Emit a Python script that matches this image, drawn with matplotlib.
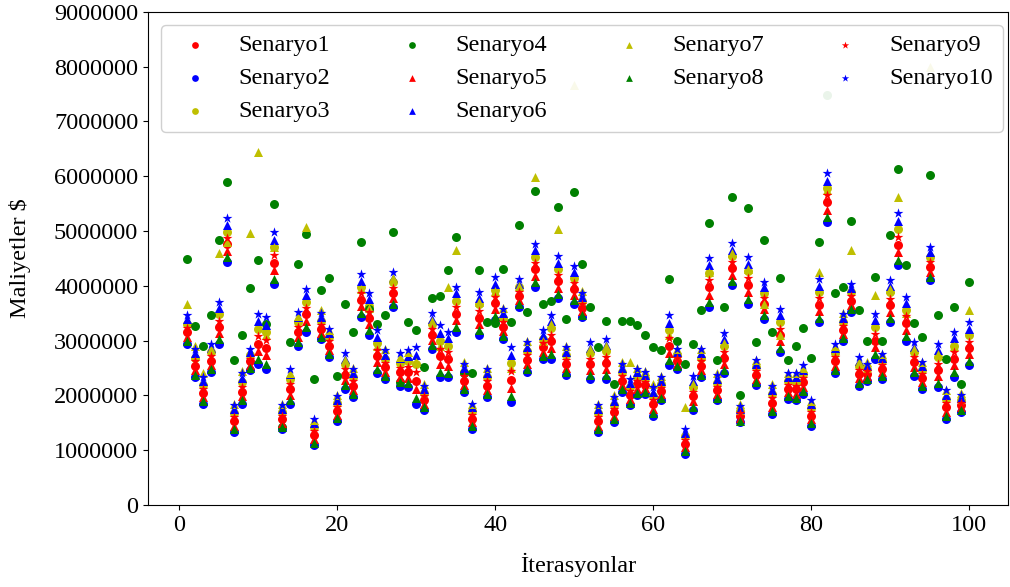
import numpy as np
import matplotlib
matplotlib.use("Agg")
import matplotlib.pyplot as plt

plt.rcParams['font.family'] = ['Liberation Serif', 'DejaVu Serif']

iterations = list(range(1, 101))

# values in millions of $
senaryo1 = [3.15, 2.54, 2.04, 2.63, 3.25, 4.76, 1.53, 2.07, 2.62, 2.94,
            2.87, 4.42, 1.56, 2.11, 3.15, 3.48, 1.28, 3.21, 2.91, 1.72,
            2.38, 2.18, 3.74, 3.41, 2.72, 2.51, 3.87, 2.42, 2.42, 2.27,
            1.91, 3.11, 2.71, 2.66, 3.49, 2.27, 1.57, 3.42, 2.18, 3.69,
            3.25, 2.28, 3.81, 2.65, 4.30, 2.88, 2.99, 4.08, 2.57, 3.95,
            3.60, 2.57, 1.53, 2.59, 1.69, 2.27, 2.01, 2.20, 2.19, 1.84,
            2.08, 2.91, 2.63, 1.11, 1.98, 2.54, 3.97, 2.09, 2.69, 4.32,
            1.63, 4.01, 2.37, 3.67, 1.87, 3.11, 2.12, 2.11, 2.24, 1.63,
            3.65, 5.52, 2.62, 3.20, 3.73, 2.39, 2.39, 3.00, 2.48, 3.65,
            4.75, 3.32, 2.60, 2.32, 4.34, 2.47, 1.78, 2.67, 1.82, 2.87]
senaryo2 = [2.94, 2.33, 1.85, 2.43, 2.94, 4.44, 1.33, 1.85, 2.46, 2.58,
            2.49, 4.04, 1.39, 1.85, 2.91, 3.16, 1.09, 3.02, 2.70, 1.54,
            2.12, 1.97, 3.43, 3.11, 2.40, 2.30, 3.61, 2.18, 2.15, 1.85,
            1.73, 2.85, 2.33, 2.33, 3.16, 2.06, 1.39, 3.11, 1.97, 3.37,
            3.03, 1.88, 3.61, 2.43, 3.98, 2.67, 2.67, 3.77, 2.37, 3.67,
            3.43, 2.30, 1.33, 2.30, 1.51, 2.06, 1.82, 2.00, 2.03, 1.63,
            1.91, 2.55, 2.49, 0.93, 1.73, 2.33, 3.61, 1.91, 2.40, 4.01,
            1.51, 3.67, 2.19, 3.40, 1.66, 2.79, 1.94, 1.91, 2.03, 1.45,
            3.34, 5.17, 2.41, 3.00, 3.52, 2.18, 2.27, 2.67, 2.30, 3.34,
            4.37, 3.00, 2.36, 2.12, 4.10, 2.15, 1.57, 2.34, 1.70, 2.55]
senaryo3 = [3.31, 2.69, 2.19, 2.79, 3.48, 4.99, 1.67, 2.24, 2.73, 3.22,
            3.15, 4.70, 1.69, 2.30, 3.34, 3.71, 1.43, 3.36, 3.06, 1.86,
            2.58, 2.33, 3.98, 3.64, 2.95, 2.66, 4.06, 2.59, 2.62, 2.58,
            2.05, 3.31, 3.00, 2.91, 3.73, 2.42, 1.71, 3.66, 2.33, 3.92,
            3.42, 2.59, 3.97, 2.81, 4.53, 3.03, 3.23, 4.31, 2.73, 4.15,
            3.73, 2.77, 1.67, 2.81, 1.83, 2.42, 2.16, 2.34, 2.31, 1.99,
            2.20, 3.19, 2.74, 1.25, 2.16, 2.69, 4.23, 2.23, 2.91, 4.55,
            1.71, 4.27, 2.51, 3.87, 2.02, 3.34, 2.26, 2.25, 2.39, 1.77,
            3.89, 5.79, 2.78, 3.34, 3.88, 2.54, 2.49, 3.24, 2.62, 3.88,
            5.04, 3.56, 2.79, 2.46, 4.53, 2.70, 1.93, 2.91, 1.91, 3.10]
senaryo4 = [4.48, 3.26, 2.91, 3.47, 4.83, 5.90, 2.65, 3.10, 3.96, 4.47,
            3.31, 5.50, 1.42, 2.97, 4.40, 4.94, 2.30, 3.92, 4.14, 2.36,
            3.67, 3.16, 4.80, 3.58, 3.31, 3.47, 4.98, 2.25, 3.34, 3.19,
            2.52, 3.77, 3.81, 4.28, 4.89, 2.40, 2.40, 4.28, 3.34, 3.32,
            4.31, 3.34, 5.10, 3.52, 5.73, 3.67, 3.73, 5.44, 3.40, 5.72,
            4.40, 3.61, 2.88, 3.36, 2.20, 3.36, 3.36, 3.28, 3.10, 2.88,
            2.82, 4.13, 3.00, 2.58, 2.94, 3.55, 5.14, 2.64, 3.62, 5.62,
            2.01, 5.41, 2.97, 4.83, 3.16, 4.14, 2.65, 2.91, 3.23, 2.69,
            4.80, 7.48, 3.86, 3.98, 5.18, 3.55, 3.00, 4.16, 3.00, 4.93,
            6.13, 4.37, 3.32, 3.07, 6.02, 3.46, 2.67, 3.62, 2.21, 4.07]
senaryo5 = [3.07, 2.46, 1.97, 2.56, 3.13, 4.64, 1.45, 1.99, 2.56, 2.81,
            2.73, 4.28, 1.50, 2.01, 3.06, 3.36, 1.21, 3.14, 2.83, 1.65,
            2.28, 2.10, 3.63, 3.30, 2.60, 2.43, 3.77, 2.33, 2.32, 2.11,
            1.84, 3.01, 2.57, 2.54, 3.37, 2.19, 1.51, 3.31, 2.10, 3.57,
            3.17, 2.13, 3.74, 2.57, 4.18, 2.80, 2.87, 3.96, 2.50, 3.84,
            3.54, 2.47, 1.45, 2.48, 1.63, 2.19, 1.94, 2.12, 2.13, 1.76,
            2.02, 2.78, 2.58, 1.05, 1.89, 2.46, 3.83, 2.03, 2.58, 4.20,
            1.58, 3.89, 2.30, 3.57, 1.79, 2.99, 2.06, 2.03, 2.16, 1.57,
            3.54, 5.39, 2.54, 3.12, 3.65, 2.31, 2.35, 2.88, 2.42, 3.53,
            4.61, 3.20, 2.51, 2.24, 4.25, 2.35, 1.70, 2.55, 1.78, 2.75]
senaryo6 = [3.39, 2.77, 2.26, 2.86, 3.59, 5.11, 1.75, 2.32, 2.79, 3.35,
            3.29, 4.84, 1.76, 2.39, 3.43, 3.83, 1.50, 3.43, 3.14, 1.92,
            2.67, 2.41, 4.09, 3.76, 3.07, 2.74, 4.15, 2.68, 2.72, 2.73,
            2.11, 3.40, 3.14, 3.04, 3.86, 2.50, 1.78, 3.77, 2.41, 4.04,
            3.50, 2.74, 4.04, 2.89, 4.65, 3.11, 3.35, 4.42, 2.80, 4.26,
            3.80, 2.87, 1.75, 2.92, 1.90, 2.50, 2.23, 2.42, 2.37, 2.07,
            2.27, 3.32, 2.80, 1.32, 2.26, 2.77, 4.37, 2.30, 3.02, 4.66,
            1.76, 4.40, 2.57, 3.97, 2.10, 3.46, 2.33, 2.33, 2.47, 1.84,
            4.00, 5.92, 2.86, 3.42, 3.96, 2.62, 2.53, 3.37, 2.69, 3.99,
            5.18, 3.68, 2.88, 2.54, 4.62, 2.82, 2.01, 3.04, 1.96, 3.22]
senaryo7 = [3.67, 2.90, 2.40, 2.85, 4.60, 4.80, 1.85, 2.45, 4.97, 6.44,
            3.10, 4.70, 1.85, 2.40, 3.45, 5.07, 1.55, 3.55, 3.20, 2.00,
            2.65, 2.50, 3.95, 3.60, 2.90, 2.85, 4.15, 2.70, 2.80, 2.60,
            2.20, 3.35, 2.90, 3.98, 4.66, 2.60, 1.85, 3.70, 2.50, 3.90,
            3.60, 2.50, 4.00, 3.00, 5.98, 3.00, 3.30, 5.04, 2.90, 7.66,
            3.90, 2.85, 1.85, 2.90, 2.00, 2.60, 2.61, 2.50, 2.45, 2.20,
            2.35, 3.10, 2.85, 1.79, 2.20, 2.85, 4.25, 2.40, 2.95, 4.60,
            1.85, 4.31, 2.65, 3.67, 2.20, 3.10, 2.40, 2.40, 2.50, 1.90,
            4.25, 5.75, 2.90, 3.50, 4.65, 2.60, 2.60, 3.84, 2.75, 3.95,
            5.62, 3.50, 2.85, 2.60, 8.00, 2.75, 2.10, 2.90, 2.05, 3.55]
senaryo8 = [2.99, 2.38, 1.90, 2.48, 3.02, 4.52, 1.38, 1.91, 2.50, 2.67,
            2.58, 4.13, 1.43, 1.91, 2.97, 3.24, 1.14, 3.07, 2.75, 1.59,
            2.19, 2.02, 3.51, 3.19, 2.48, 2.35, 3.67, 2.24, 2.22, 1.95,
            1.78, 2.92, 2.43, 2.41, 3.24, 2.11, 1.44, 3.19, 2.02, 3.45,
            3.09, 1.98, 3.66, 2.48, 4.06, 2.72, 2.75, 3.85, 2.42, 3.74,
            3.47, 2.37, 1.38, 2.37, 1.56, 2.11, 1.87, 2.05, 2.07, 1.68,
            1.95, 2.64, 2.53, 0.98, 1.79, 2.38, 3.70, 1.96, 2.47, 4.09,
            1.54, 3.76, 2.24, 3.47, 1.71, 2.87, 1.99, 1.96, 2.08, 1.50,
            3.42, 5.26, 2.46, 3.05, 3.57, 2.23, 2.30, 2.75, 2.35, 3.42,
            4.47, 3.08, 2.42, 2.17, 4.16, 2.23, 1.62, 2.42, 1.73, 2.63]
senaryo9 = [3.23, 2.62, 2.11, 2.71, 3.36, 4.87, 1.60, 2.15, 2.67, 3.08,
            3.01, 4.56, 1.63, 2.20, 3.25, 3.59, 1.35, 3.28, 2.99, 1.79,
            2.48, 2.26, 3.86, 3.53, 2.83, 2.59, 3.96, 2.50, 2.52, 2.42,
            1.98, 3.21, 2.85, 2.79, 3.61, 2.35, 1.64, 3.54, 2.26, 3.80,
            3.33, 2.44, 3.89, 2.73, 4.41, 2.96, 3.11, 4.19, 2.65, 4.05,
            3.67, 2.67, 1.60, 2.70, 1.76, 2.35, 2.08, 2.27, 2.25, 1.92,
            2.14, 3.05, 2.69, 1.18, 2.07, 2.62, 4.10, 2.16, 2.80, 4.43,
            1.67, 4.14, 2.44, 3.77, 1.95, 3.22, 2.19, 2.18, 2.32, 1.70,
            3.77, 5.65, 2.70, 3.27, 3.81, 2.47, 2.44, 3.12, 2.55, 3.76,
            4.89, 3.44, 2.70, 2.39, 4.44, 2.58, 1.86, 2.79, 1.87, 2.98]
senaryo10 = [3.47, 2.85, 2.33, 2.94, 3.71, 5.23, 1.82, 2.40, 2.85, 3.49,
             3.43, 4.98, 1.82, 2.49, 3.52, 3.95, 1.57, 3.50, 3.22, 1.99,
             2.77, 2.49, 4.21, 3.87, 3.19, 2.82, 4.25, 2.77, 2.82, 2.89,
             2.18, 3.50, 3.28, 3.16, 3.98, 2.58, 1.85, 3.89, 2.49, 4.16,
             3.58, 2.89, 4.12, 2.97, 4.77, 3.19, 3.47, 4.54, 2.88, 4.36,
             3.86, 2.97, 1.82, 3.03, 1.97, 2.58, 2.30, 2.49, 2.43, 2.15,
             2.33, 3.46, 2.85, 1.39, 2.35, 2.85, 4.50, 2.37, 3.13, 4.78,
             1.80, 4.53, 2.64, 4.07, 2.18, 3.58, 2.40, 2.40, 2.55, 1.91,
             4.12, 6.05, 2.94, 3.49, 4.04, 2.70, 2.58, 3.49, 2.76, 4.11,
             5.32, 3.80, 2.97, 2.61, 4.71, 2.94, 2.09, 3.16, 2.00, 3.34]

labels = ['Senaryo1', 'Senaryo2', 'Senaryo3', 'Senaryo4', 'Senaryo5',
          'Senaryo6', 'Senaryo7', 'Senaryo8', 'Senaryo9', 'Senaryo10']
series = [senaryo1, senaryo2, senaryo3, senaryo4, senaryo5,
          senaryo6, senaryo7, senaryo8, senaryo9, senaryo10]
colors = ['r', 'b', 'y', 'g', 'r', 'b', 'y', 'g', 'r', 'b']
markers = ['o', 'o', 'o', 'o', '^', '^', '^', '^', '*', '*']
sizes = [42, 42, 42, 42, 42, 42, 42, 42, 55, 55]

fig = plt.figure(figsize=(10.10, 5.87), dpi=100)
ax = fig.add_axes([0.1465, 0.1397, 0.852, 0.8403])

for vals, lab, c, m, s in zip(series, labels, colors, markers, sizes):
    ax.scatter(iterations, np.asarray(vals) * 1e6, c=c, marker=m, s=s,
               label=lab, linewidths=0)

yt = np.arange(0, 9e6 + 1, 1e6)
ax.set_ylim(0, 9e6)
ax.set_yticks(yt)
ax.set_yticklabels([f"{int(v)}" for v in yt])
ax.set_xticks([0, 20, 40, 60, 80, 100])
ax.tick_params(labelsize=17.5)
ax.set_xlabel('İterasyonlar', fontsize=17.5, labelpad=12)
ax.set_ylabel('Maliyetler $', fontsize=17.5)
ax.yaxis.set_label_coords(-0.136, 0.5)

ax.legend(ncol=4, fontsize=17.5, loc='upper left',
          bbox_to_anchor=(0.0151, 0.9736, 0.978, 0), mode='expand',
          markerscale=0.75, borderaxespad=0.0, framealpha=0.92,
          labelspacing=0.45)

fig.savefig('out.png', dpi=100)
